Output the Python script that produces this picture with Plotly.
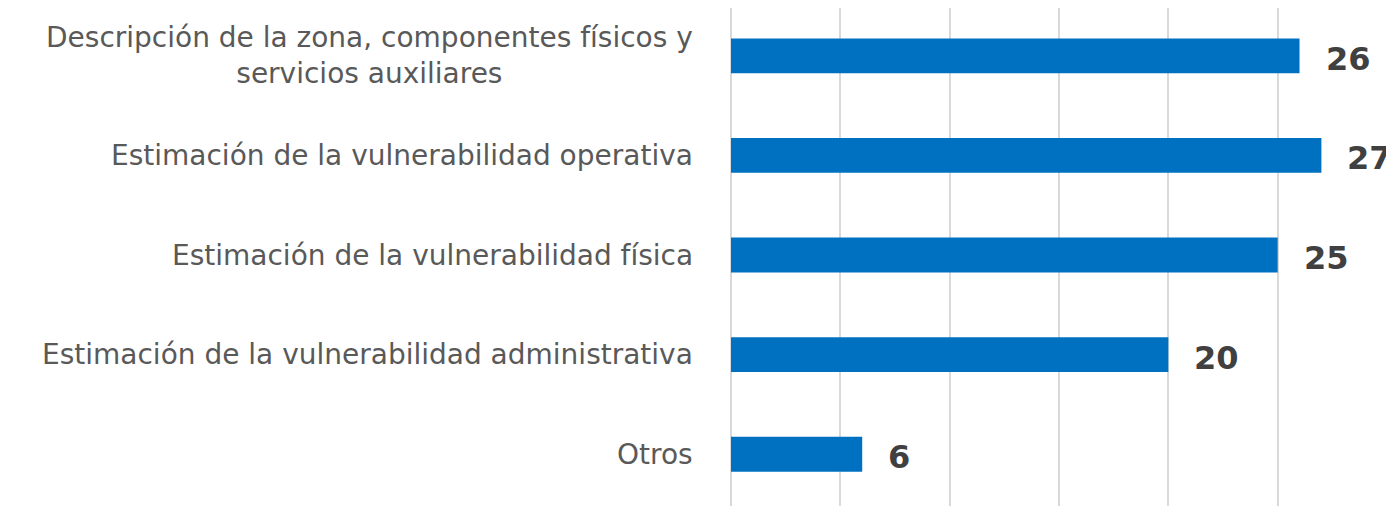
import plotly.graph_objects as go

categories = [
    "Descripción de la zona, componentes físicos y<br>servicios auxiliares",
    "Estimación de la vulnerabilidad operativa",
    "Estimación de la vulnerabilidad física",
    "Estimación de la vulnerabilidad administrativa",
    "Otros",
]
values = [26, 27, 25, 20, 6]
x_ticks = [0, 5, 10, 15, 20, 25, 30]

fig = go.Figure()
fig.add_trace(go.Bar(
    x=values, y=categories, orientation="h",
    marker=dict(color="#0070C0", line=dict(width=0)),
    width=0.35, hoverinfo="skip",
))

annotations = []
for c, v in zip(categories, values):
    annotations.append(dict(
        x=v, y=c, xref="x", yref="y", text=f"<b>{v}</b>", showarrow=False,
        xanchor="left", yanchor="middle", xshift=24, yshift=-3,
        font=dict(family="DejaVu Sans", size=32, color="#404040"),
    ))
    annotations.append(dict(
        x=0, y=c, xref="paper", yref="y", text=c, showarrow=False,
        xanchor="right", yanchor="middle", xshift=-36, align="center",
        font=dict(family="DejaVu Sans", size=28, color="#595959"),
    ))

fig.update_layout(
    width=1394, height=506,
    margin=dict(l=723, r=15, t=0, b=8),
    paper_bgcolor="white", plot_bgcolor="white",
    showlegend=False,
    annotations=annotations,
    xaxis=dict(range=[0, 30], tickvals=x_ticks, showticklabels=False,
               showgrid=True, gridcolor="#D9D9D9", gridwidth=2,
               zeroline=True, zerolinecolor="#D9D9D9", zerolinewidth=2,
               showline=False),
    yaxis=dict(range=[4.52, -0.48], showticklabels=False, showgrid=False,
               zeroline=False, showline=False),
)

fig.write_html("out.html")
